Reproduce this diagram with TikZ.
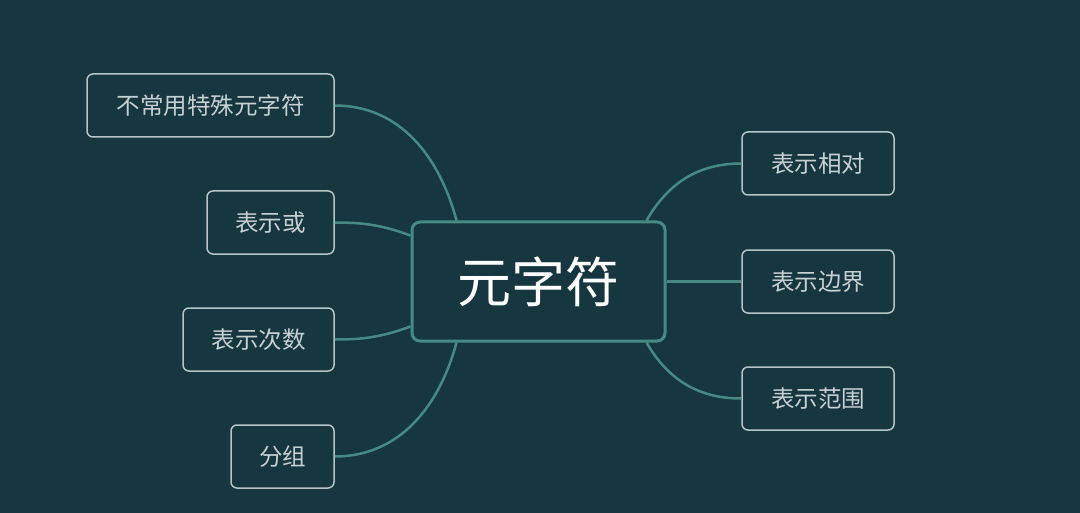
\documentclass[tikz,border=0pt]{standalone}
\usepackage{fontspec}
\setmainfont{Noto Sans CJK SC}
\usetikzlibrary{positioning,calc}
\definecolor{bgdark}{HTML}{163640}
\definecolor{linkteal}{HTML}{458B83}
\definecolor{boxgray}{HTML}{B8C3C6}
\definecolor{textgray}{HTML}{C9D0D2}

\begin{document}
\begin{tikzpicture}[x=0.5pt,y=-0.5pt,
  topic/.style={draw=linkteal,line width=1.5pt,rounded corners=4pt,fill=bgdark,
    minimum width=126.5pt,minimum height=59.5pt,inner sep=0pt,text=white,font=\fontsize{27}{30}\selectfont},
  leaf/.style={draw=boxgray,line width=0.75pt,rounded corners=3pt,
    minimum height=31.5pt,inner sep=0pt,text=textgray,font=\fontsize{11.75}{14}\selectfont},
  link/.style={draw=linkteal,line width=1.25pt}]
\fill[bgdark] (0,0) rectangle (1080,513);
\useasboundingbox (0,0) rectangle (1080,513);
% central topic
\node[topic] (meta) at (538.5,281.5) {元字符};
% left branches
\node[leaf,minimum width=123.5pt] (rare) at (210.5,105.5) {不常用特殊元字符};
\node[leaf,minimum width=63.5pt] (alt) at (270.5,222.5) {表示或};
\node[leaf,minimum width=75.5pt] (count) at (258.5,339.5) {表示次数};
\node[leaf,minimum width=51.5pt] (group) at (282.5,456.5) {分组};
% right branches
\node[leaf,minimum width=76pt] (rel) at (818,163.5) {表示相对};
\node[leaf,minimum width=76pt] (edge) at (818,281.5) {表示边界};
\node[leaf,minimum width=76pt] (range) at (818,398.5) {表示范围};
% anchor points on the central box
\coordinate (mtl) at ($(meta.north west)+(46,0)$);
\coordinate (mbl) at ($(meta.south west)+(46,0)$);
\coordinate (mtr) at ($(meta.north east)+(-20,0)$);
\coordinate (mbr) at ($(meta.south east)+(-20,0)$);
\coordinate (mlu) at ($(meta.north west)+(0,15)$);
\coordinate (mld) at ($(meta.south west)+(0,-16)$);
% connectors
\path[link] (rare.east) to[out=0,in=105] (mtl);
\path[link] (alt.east) to[out=0,in=160] (mlu);
\path[link] (count.east) to[out=0,in=200] (mld);
\path[link] (group.east) to[out=0,in=255] (mbl);
\path[link] (mtr) to[out=60,in=180] (rel.west);
\path[link] (meta.east) -- (edge.west);
\path[link] (mbr) to[out=-60,in=180] (range.west);
\end{tikzpicture}
\end{document}
